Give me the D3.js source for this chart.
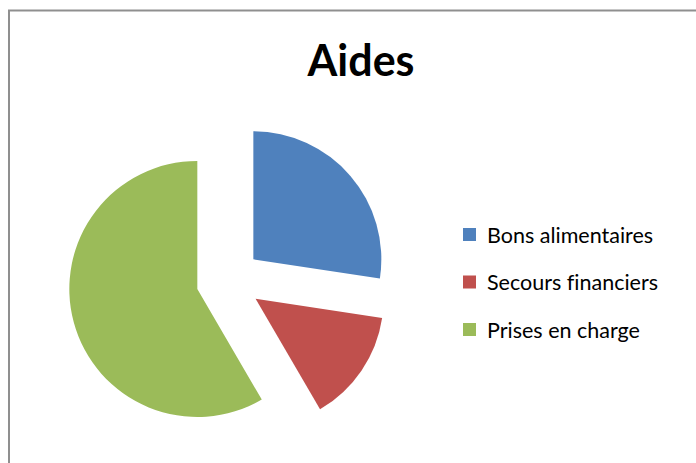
<!DOCTYPE html>
<html>
<head>
<meta charset="utf-8">
<script src="https://cdn.jsdelivr.net/npm/d3@7"></script>
<style>
  html, body { margin: 0; padding: 0; background: #fff; }
  svg { display: block; }
  text { font-variant-ligatures: none; }
</style>
</head>
<body>
<svg id="chart" width="696" height="463"></svg>
<script>
const title = "Aides";
const categories = ["Bons alimentaires", "Secours financiers", "Prises en charge"];
const values = [27.4, 14.2, 58.4];
const colors = ["#4F81BD", "#C0504D", "#9BBB59"];

const svg = d3.select("#chart");
const font = "Lato, 'Open Sans', 'Liberation Sans', sans-serif";

// chart area border
svg.append("rect")
  .attr("x", 9).attr("y", 10.5)
  .attr("width", 720).attr("height", 480)
  .attr("fill", "#fff")
  .attr("stroke", "#8f8f8f")
  .attr("stroke-width", 2);

// title
svg.append("text")
  .attr("x", 361).attr("y", 76)
  .attr("text-anchor", "middle")
  .attr("font-family", font)
  .attr("font-weight", "bold")
  .attr("font-size", 43)
  .attr("fill", "#000")
  .text(title);

// pie
const cx = 228.7, cy = 280.5, R = 128, explode = 32.5;
const pie = d3.pie().sort(null).value(d => d)(values);
const arc = d3.arc().innerRadius(0).outerRadius(R);

const g = svg.append("g").attr("transform", `translate(${cx},${cy})`);
g.selectAll("path")
  .data(pie)
  .join("path")
  .attr("d", arc)
  .attr("fill", (d, i) => colors[i])
  .attr("transform", d => {
    const a = (d.startAngle + d.endAngle) / 2;
    return `translate(${explode * Math.sin(a)},${-explode * Math.cos(a)})`;
  });

// legend
const legend = svg.append("g");
const rows = legend.selectAll("g")
  .data(categories)
  .join("g")
  .attr("transform", (d, i) => `translate(463,${228 + i * 47.5})`);
rows.append("rect")
  .attr("width", 13).attr("height", 13)
  .attr("fill", (d, i) => colors[i]);
rows.append("text")
  .attr("x", 24).attr("y", 14.5)
  .attr("font-family", font)
  .attr("font-size", 21.5)
  .attr("fill", "#000")
  .text(d => d);
</script>
</body>
</html>
